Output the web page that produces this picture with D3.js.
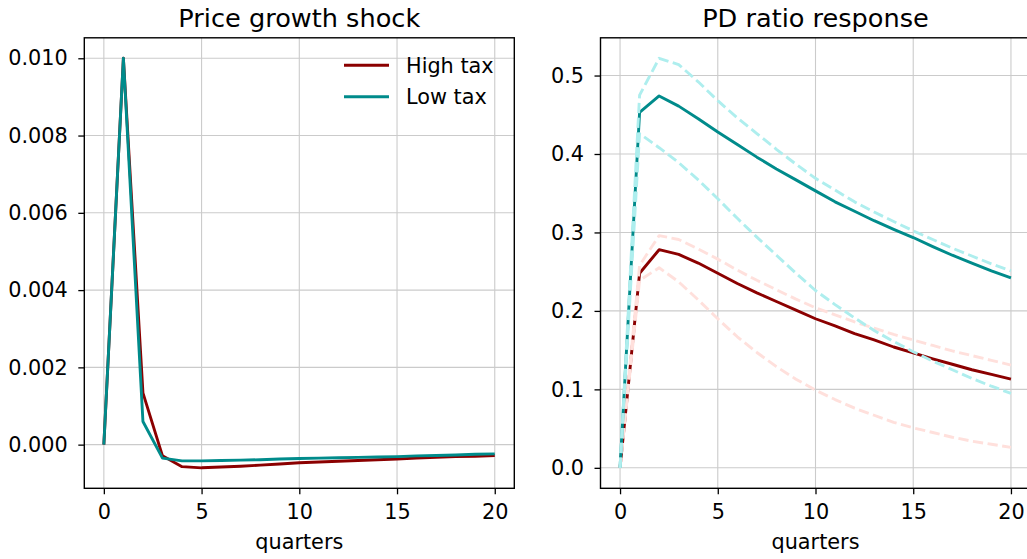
<!DOCTYPE html>
<html>
<head>
<meta charset="utf-8">
<script src="https://cdn.jsdelivr.net/npm/d3@7/dist/d3.min.js"></script>
<style>
  html, body { margin: 0; padding: 0; background: #ffffff; }
  svg { display: block; }
  text { font-family: "DejaVu Sans", sans-serif; fill: #000; }
</style>
</head>
<body>
<svg id="chart" width="1027" height="559"></svg>
<script>
// Horizon (quarters after the shock)
const quarters = d3.range(0, 21);

// Panel 1: price growth shock path
const shockHigh = [0, 0.0100, 0.00134, -0.00029, -0.00057, -0.00060, -0.00058, -0.00056, -0.00053, -0.00050,
  -0.00047, -0.00045, -0.00043, -0.00041, -0.00039, -0.00037, -0.00035, -0.00033, -0.00031, -0.00030, -0.00028];
const shockLow = [0, 0.0100, 0.00060, -0.00035, -0.00042, -0.00042, -0.00041, -0.00040, -0.00039, -0.00037,
  -0.00036, -0.00035, -0.00034, -0.00033, -0.00032, -0.00031, -0.00029, -0.00028, -0.00027, -0.00025, -0.00024];

// Panel 2: PD ratio response with bands
const pdHigh = [0, 0.248, 0.278, 0.272, 0.261, 0.248, 0.235, 0.223, 0.212, 0.201,
  0.190, 0.181, 0.171, 0.163, 0.154, 0.1465, 0.139, 0.132, 0.125, 0.119, 0.113];
const pdHighUpper = [0, 0.258, 0.296, 0.291, 0.279, 0.266, 0.252, 0.239, 0.227, 0.215,
  0.204, 0.195, 0.186, 0.178, 0.170, 0.163, 0.156, 0.149, 0.143, 0.137, 0.131];
const pdHighLower = [0, 0.239, 0.255, 0.237, 0.214, 0.190, 0.167, 0.147, 0.129, 0.113,
  0.099, 0.087, 0.076, 0.067, 0.058, 0.051, 0.045, 0.039, 0.034, 0.030, 0.026];
const pdLow = [0, 0.453, 0.474, 0.461, 0.445, 0.428, 0.412, 0.396, 0.381, 0.367,
  0.353, 0.339, 0.327, 0.315, 0.304, 0.2935, 0.282, 0.271, 0.261, 0.251, 0.242];
const pdLowUpper = [0, 0.475, 0.522, 0.514, 0.492, 0.468, 0.446, 0.426, 0.406, 0.387,
  0.369, 0.354, 0.339, 0.326, 0.314, 0.302, 0.291, 0.280, 0.270, 0.260, 0.251];
const pdLowLower = [0, 0.426, 0.408, 0.389, 0.367, 0.343, 0.318, 0.294, 0.271, 0.248,
  0.226, 0.208, 0.191, 0.175, 0.161, 0.148, 0.136, 0.125, 0.114, 0.104, 0.095];

// Tick labels
const xTicks = [0, 5, 10, 15, 20];
const shockTicks = [0, 0.002, 0.004, 0.006, 0.008, 0.010];
const pdTicks = [0, 0.1, 0.2, 0.3, 0.4, 0.5];

const seriesNames = ["High tax", "Low tax"];
const titles = ["Price growth shock", "PD ratio response"];
const xLabel = "quarters";

const colors = { high: "#8b0000", low: "#008b8b", highBand: "#ffe0dc", lowBand: "#aeeeee" };

const svg = d3.select("#chart");

const plotTop = 37.8, plotBottom = 488.3;
const panels = [
  { left: 84.3, right: 514.3 },
  { left: 600.5, right: 1030.5 }
];
const labelSize = "20.8px", titleSize = "25.6px";

// matplotlib-style 5% padding of the data range
function padded(arrays) {
  const all = arrays.flat();
  const lo = d3.min(all), hi = d3.max(all);
  const p = (hi - lo) * 0.05;
  return [lo - p, hi + p];
}

function setupPanel(p, yDomain, yTicks, yFmt, title) {
  const x = d3.scaleLinear().domain([-1, 21]).range([p.left, p.right]);
  const y = d3.scaleLinear().domain(yDomain).range([plotBottom, plotTop]);
  const g = svg.append("g");

  // grid
  g.append("g").selectAll("line").data(xTicks).join("line")
    .attr("x1", d => x(d)).attr("x2", d => x(d))
    .attr("y1", plotTop).attr("y2", plotBottom)
    .attr("stroke", "#cbcbcb").attr("stroke-width", 1.1);
  g.append("g").selectAll("line").data(yTicks).join("line")
    .attr("x1", p.left).attr("x2", p.right)
    .attr("y1", d => y(d)).attr("y2", d => y(d))
    .attr("stroke", "#cbcbcb").attr("stroke-width", 1.1);

  const layer = g.append("g");

  // axes
  const ax = g.append("g").attr("transform", `translate(0,${plotBottom})`)
    .call(d3.axisBottom(x).tickValues(xTicks).tickSize(6).tickPadding(10).tickFormat(d3.format("d")));
  const ay = g.append("g").attr("transform", `translate(${p.left},0)`)
    .call(d3.axisLeft(y).tickValues(yTicks).tickSize(6).tickPadding(10.5).tickFormat(yFmt));
  [ax, ay].forEach(a => {
    a.select(".domain").remove();
    a.selectAll(".tick line").attr("stroke", "#000").attr("stroke-width", 1.3);
    a.selectAll(".tick text").attr("font-size", labelSize).attr("font-family", "DejaVu Sans").attr("fill", "#000");
  });

  // frame
  g.append("rect").attr("x", p.left).attr("y", plotTop)
    .attr("width", p.right - p.left).attr("height", plotBottom - plotTop)
    .attr("fill", "none").attr("stroke", "#000").attr("stroke-width", 1.4);

  g.append("text").attr("x", (p.left + p.right) / 2).attr("y", 26.5)
    .attr("text-anchor", "middle").attr("font-size", titleSize).text(title);
  g.append("text").attr("x", (p.left + p.right) / 2).attr("y", 549)
    .attr("text-anchor", "middle").attr("font-size", labelSize).text(xLabel);

  return { x, y, layer };
}

function drawLine(panel, values, color, dashed) {
  const line = d3.line().x((d, i) => panel.x(quarters[i])).y(d => panel.y(d));
  panel.layer.append("path").datum(values)
    .attr("d", line)
    .attr("fill", "none")
    .attr("stroke", color)
    .attr("stroke-width", 2.9)
    .attr("stroke-linejoin", "round")
    .attr("stroke-dasharray", dashed ? "10.3,4.5" : null);
}

// Panel 1
const p1 = setupPanel(panels[0], padded([shockHigh, shockLow]), shockTicks, d3.format(".3f"), titles[0]);
drawLine(p1, shockHigh, colors.high, false);
drawLine(p1, shockLow, colors.low, false);

// legend
const legend = svg.append("g");
[[seriesNames[0], colors.high, 65.3], [seriesNames[1], colors.low, 96.7]].forEach(([name, c, ly]) => {
  legend.append("line").attr("x1", 344).attr("x2", 389).attr("y1", ly).attr("y2", ly)
    .attr("stroke", c).attr("stroke-width", 2.9);
  legend.append("text").attr("x", 406).attr("y", ly).attr("dy", "0.35em")
    .attr("font-size", labelSize).text(name);
});

// Panel 2
const p2 = setupPanel(panels[1], padded([pdHigh, pdHighUpper, pdHighLower, pdLow, pdLowUpper, pdLowLower]),
  pdTicks, d3.format(".1f"), titles[1]);
drawLine(p2, pdHigh, colors.high, false);
drawLine(p2, pdHighUpper, colors.highBand, true);
drawLine(p2, pdHighLower, colors.highBand, true);
drawLine(p2, pdLow, colors.low, false);
drawLine(p2, pdLowUpper, colors.lowBand, true);
drawLine(p2, pdLowLower, colors.lowBand, true);
</script>
</body>
</html>
